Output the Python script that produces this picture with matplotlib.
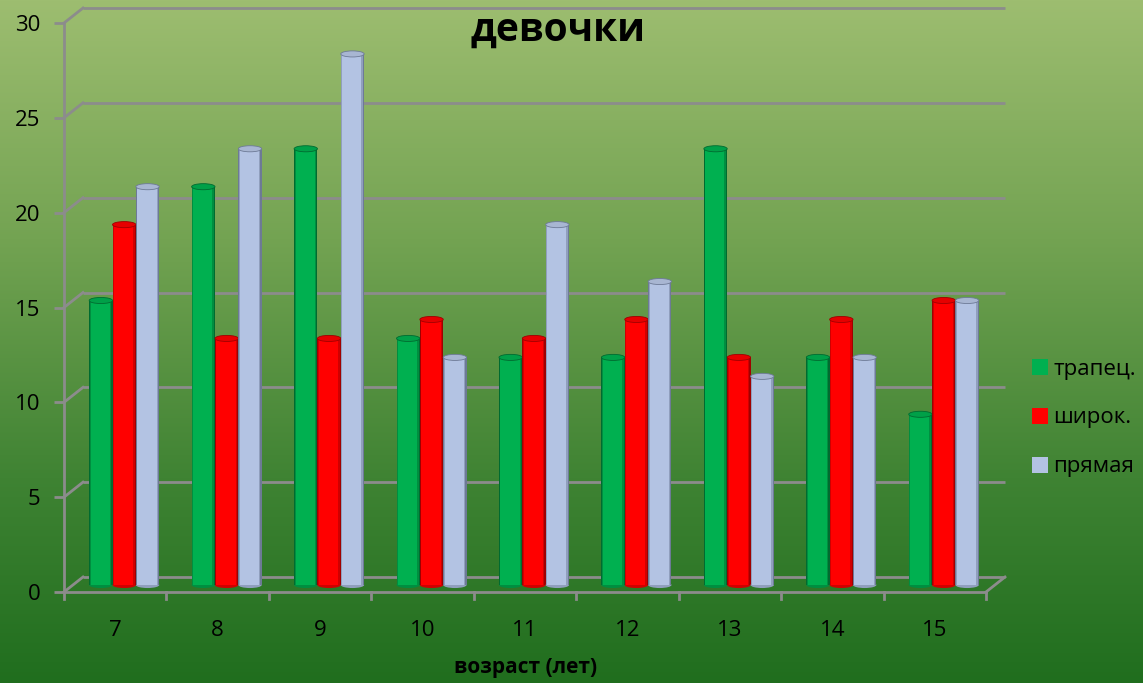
import numpy as np
import matplotlib
matplotlib.use("Agg")
import matplotlib.pyplot as plt
from matplotlib import transforms
from matplotlib.patches import Ellipse
from matplotlib.lines import Line2D
from matplotlib.colors import to_rgb

plt.rcParams['font.family'] = ['Open Sans', 'DejaVu Sans']

categories = ['7', '8', '9', '10', '11', '12', '13', '14', '15']
series_names = ['трапец.', 'широк.', 'прямая']
trapez = [15, 21, 23, 13, 12, 12, 23, 12, 9]
shirok = [19, 13, 13, 14, 13, 14, 12, 14, 15]
pryam = [21, 23, 28, 12, 19, 16, 11, 12, 15]
yticks = [0, 5, 10, 15, 20, 25, 30]
title = 'девочки'
xlabel = 'возраст (лет)'

colors = ['#00b050', '#ff0000', '#b3c3e3']
dark = ['#006b30', '#a00000', '#6d7a96']
tops = ['#00a048', '#e60000', '#a8b6d2']

W, H = 1143, 683
fig = plt.figure(figsize=(W / 100, H / 100), dpi=100)

# background gradient
bg = fig.add_axes([0, 0, 1, 1], zorder=-10)
grad_stops = np.array([to_rgb('#9dbd70'), to_rgb('#73a352'), to_rgb('#3f8333'), to_rgb('#206e1e')])
t = np.linspace(0, 1, 300)
pos = np.array([0, 0.35, 0.7, 1.0])
img = np.stack([np.interp(t, pos, grad_stops[:, c]) for c in range(3)], axis=1)
bg.imshow(img[:, None, :], aspect='auto', extent=[0, 1, 0, 1])
bg.set_axis_off()

x0, x1, y0, y1 = 64, 986, 592, 23
ax = fig.add_axes([x0 / W, (H - y0) / H, (x1 - x0) / W, (y0 - y1) / H])
ax.set_facecolor('none')
n = len(categories)
ax.set_xlim(-0.5, n - 0.5)
ax.set_ylim(0, 30)

back = transforms.offset_copy(ax.transData, fig, x=19, y=15, units='dots')
mid = transforms.offset_copy(ax.transData, fig, x=9, y=7, units='dots')

gcol = '#8c8c8c'
lw = 2.0
for yv in yticks:
    ax.plot([-0.5, n - 0.5], [yv, yv], color=gcol, lw=lw, transform=back, clip_on=False, zorder=1,
            solid_capstyle='butt')
# diagonals from front to back on left
for yv in yticks:
    p0 = ax.transData.transform((-0.5, yv))
    p1 = back.transform((-0.5, yv))
    fig.add_artist(Line2D([p0[0] / W, p1[0] / W], [p0[1] / H, p1[1] / H], color=gcol, lw=lw, zorder=2))
# right floor diagonal
p0 = ax.transData.transform((n - 0.5, 0))
p1 = back.transform((n - 0.5, 0))
fig.add_artist(Line2D([p0[0] / W, p1[0] / W], [p0[1] / H, p1[1] / H], color=gcol, lw=lw, zorder=2))

# bars (cylinders)
bw = 0.228
offsets = [-bw, 0, bw]
xs = np.arange(n)
layers = [(1.0, 0.0), (0.92, 0.5), (0.82, 1.0)]
for si, vals in enumerate([trapez, shirok, pryam]):
    base = np.array(to_rgb(colors[si]))
    dk = np.array(to_rgb(dark[si]))
    for frac, mix in layers:
        c = dk * (1 - mix) + base * mix
        ax.bar(xs + offsets[si] - bw * (1 - frac) * 0.15, vals, width=bw * frac, color=c,
               transform=mid, zorder=3 + si * 0.1, clip_on=False, linewidth=0)
    for xi, v in zip(xs, vals):
        eb = Ellipse((xi + offsets[si], 0), width=bw, height=0.32, facecolor=tuple(dk * 0.5 + base * 0.5),
                     transform=mid, zorder=2.9 + si * 0.1, linewidth=0, clip_on=False)
        ax.add_patch(eb)
        et = Ellipse((xi + offsets[si], v), width=bw, height=0.32, facecolor=tops[si],
                     edgecolor=dark[si], linewidth=0.6, transform=mid, zorder=3.05 + si * 0.1, clip_on=False)
        ax.add_patch(et)

# axes styling
for s in ['top', 'right']:
    ax.spines[s].set_visible(False)
for s in ['left', 'bottom']:
    ax.spines[s].set_color(gcol)
    ax.spines[s].set_linewidth(lw)
    ax.spines[s].set_zorder(5)
ax.set_yticks(yticks)
ax.set_yticklabels([str(v) for v in yticks], fontsize=16)
ax.set_xticks(xs)
ax.set_xticklabels(categories, fontsize=16)
ax.tick_params(axis='x', length=0, pad=20)
ax.tick_params(axis='y', length=7, width=lw, color=gcol, pad=10)
for b in np.arange(n + 1) - 0.5:
    ax.plot([b, b], [0, -0.38], color=gcol, lw=lw, clip_on=False, zorder=5)

fig.text(558 / W, 1 - 30 / H, title, fontsize=28, fontweight='bold', ha='center', va='center')
fig.text(526 / W, 1 - 667 / H, xlabel, fontsize=15, fontweight='bold', ha='center', va='center')

handles = [Line2D([], [], marker='s', linestyle='none', markersize=11, markerfacecolor=c, markeredgewidth=0)
           for c in colors]
fig.legend(handles, series_names, loc='center left', bbox_to_anchor=(1020 / W, 1 - 418 / H), frameon=False,
           fontsize=16, handletextpad=0.1, labelspacing=1.25, handlelength=1.0, borderaxespad=0)

fig.savefig('out.png', dpi=100)
